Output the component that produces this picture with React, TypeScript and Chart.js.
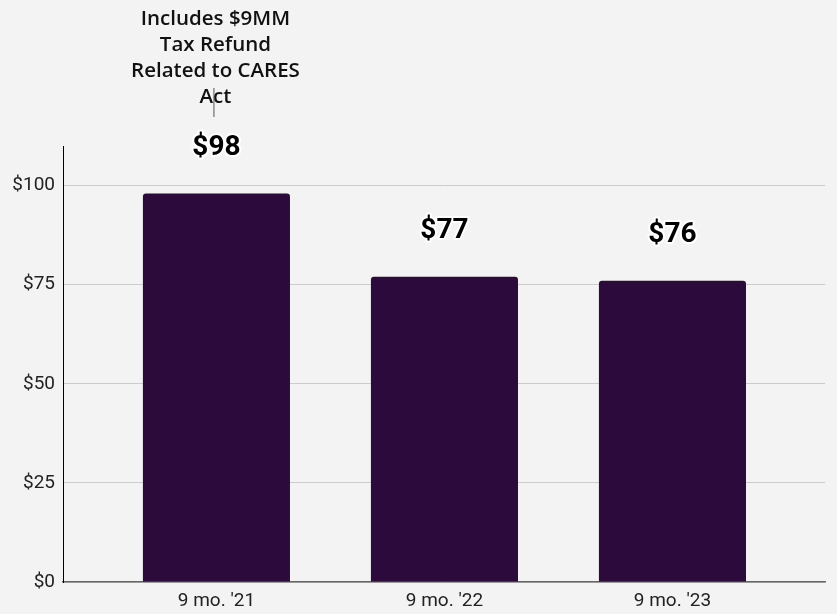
import React, { useEffect, useRef } from "react";
import { Chart, registerables } from "chart.js";

Chart.register(...registerables);

const categories = ["9 mo. '21", "9 mo. '22", "9 mo. '23"];
const values = [98, 77, 76];
const valueLabels = ["$98", "$77", "$76"];
const yTickValues = [0, 25, 50, 75, 100];
const annotationLines = ["Includes $9MM", "Tax Refund", "Related to CARES", "Act"];

const BG = "#f3f3f3";
const BAR = "#2c0a3b";

const labelPlugin = {
  id: "valueLabels",
  afterDatasetsDraw(chart: any) {
    const ctx = chart.ctx;
    const meta = chart.getDatasetMeta(0);
    ctx.save();
    ctx.font = "bold 28px Roboto";
    ctx.textAlign = "center";
    ctx.textBaseline = "middle";
    ctx.lineJoin = "round";
    meta.data.forEach((bar: any, i: number) => {
      const x = bar.x;
      const y = bar.y - 46;
      ctx.lineWidth = 4;
      ctx.strokeStyle = "#ffffff";
      ctx.strokeText(valueLabels[i], x, y);
      ctx.fillStyle = "#000000";
      ctx.fillText(valueLabels[i], x, y);
    });
    // annotation above first bar
    const first = meta.data[0];
    ctx.font = "600 20.5px 'Open Sans'";
    ctx.fillStyle = "#111111";
    annotationLines.forEach((t, i) => {
      ctx.fillText(t, first.x - 1, 19 + i * 26);
    });
    ctx.strokeStyle = "#555";
    ctx.lineWidth = 1;
    ctx.beginPath();
    ctx.moveTo(first.x - 2.5, 88);
    ctx.lineTo(first.x - 2.5, 117);
    ctx.stroke();
    ctx.restore();
  },
};

export default function App() {
  const ref = useRef<HTMLCanvasElement>(null);
  useEffect(() => {
    document.body.style.background = BG;
    const chart = new Chart(ref.current!, {
      type: "bar",
      data: {
        datasets: [
          {
            data: values.map((v, i) => ({ x: i, y: v })),
            backgroundColor: BAR,
            borderRadius: { topLeft: 3, topRight: 3 },
            borderSkipped: "bottom",
            categoryPercentage: 1,
            barPercentage: 0.645,
          },
        ],
      },
      options: {
        responsive: false,
        animation: false,
        layout: { padding: { top: 146, right: 12, left: 0, bottom: 0 } },
        plugins: { legend: { display: false }, tooltip: { enabled: false } },
        scales: {
          x: {
            type: "linear",
            offset: false,
            min: -0.673,
            max: 2.669,
            afterBuildTicks: (s: any) => {
              s.ticks = categories.map((_, i) => ({ value: i }));
            },
            afterFit: (s: any) => {
              s.height = 32;
            },
            grid: { display: false, drawTicks: false, offset: false },
            border: { display: true, color: "#666", width: 1.5 },
            ticks: {
              padding: 8,
              color: "#222",
              font: { family: "Roboto", size: 19 },
              callback: (v: any) => categories[v] ?? "",
            },
          },
          y: {
            min: 0,
            max: 110,
            afterBuildTicks: (s: any) => {
              s.ticks = yTickValues.map((v) => ({ value: v }));
            },
            afterFit: (s: any) => {
              s.width = 63;
            },
            grid: { color: "#cccccc", drawTicks: false },
            border: { display: true, color: "#000", width: 1 },
            ticks: {
              padding: 8,
              color: "#222",
              font: { family: "Roboto", size: 19 },
              callback: (v: any) => "$" + v,
            },
          },
        },
      },
      plugins: [labelPlugin],
    } as any);
    return () => chart.destroy();
  }, []);
  return (
    <div style={{ position: "absolute", left: 0, top: 0, width: 837, height: 614, background: BG }}>
      <canvas ref={ref} width={837} height={614} style={{ display: "block" }} />
    </div>
  );
}
